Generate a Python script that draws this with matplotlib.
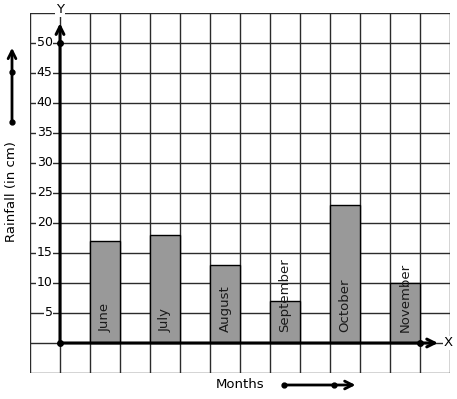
import matplotlib
matplotlib.use('Agg')
from matplotlib import pyplot as plt

# data
months = ['June', 'July', 'August', 'September', 'October', 'November']
rainfall = [17, 18, 13, 7, 23, 10]
bar_pos = [1.5, 3.5, 5.5, 7.5, 9.5, 11.5]
y_ticks = [5, 10, 15, 20, 25, 30, 35, 40, 45, 50]

fig = plt.figure(figsize=(4.57, 3.99), dpi=100)
ax = fig.add_axes([30/457, 26/399, 420/457, 360/399])
ax.set_xlim(-1, 13)
ax.set_ylim(-5, 55)
ax.set_xticks([])
ax.set_yticks([])
for s in ax.spines.values():
    s.set_visible(False)

# grid paper
for gx in range(-1, 14):
    ax.axvline(gx, color='#2b2b2b', lw=1.0, zorder=1)
for gy in range(-5, 56, 5):
    ax.axhline(gy, color='#2b2b2b', lw=1.0, zorder=1)

# bars
ax.bar(bar_pos, rainfall, width=1, color='#999999', edgecolor='black', lw=1.0, zorder=2)
for x, m in zip(bar_pos, months):
    ax.text(x, 1.75, m, rotation=90, ha='center', va='bottom', fontsize=9.5, color='#1a1a1a', zorder=3)

# axes with arrows
ax.annotate('', xy=(0, 53.3), xytext=(0, 0),
            arrowprops=dict(arrowstyle='->', lw=2.2, color='black', shrinkA=0, shrinkB=0,
                            mutation_scale=14), zorder=4)
ax.annotate('', xy=(12.6, 0), xytext=(0, 0),
            arrowprops=dict(arrowstyle='->', lw=2.2, color='black', shrinkA=0, shrinkB=0,
                            mutation_scale=14), zorder=4)
ax.plot([0, 0, 12], [0, 50, 0], 'o', color='black', ms=4, zorder=5)

wb = dict(facecolor='white', edgecolor='none', pad=0.6)
ax.text(0, 55.6, 'Y', ha='center', va='center', fontsize=9.5, bbox=wb, clip_on=False, zorder=6)
ax.text(12.95, 0, 'X', ha='center', va='center', fontsize=9.5, bbox=wb, clip_on=False, zorder=6)
for t in y_ticks:
    ax.text(-0.25, t, str(t), ha='right', va='center', fontsize=9, bbox=wb, zorder=6)

# axis titles with arrows
ax.text(-1.6, 25.25, 'Rainfall (in cm)', rotation=90, ha='center', va='center',
        fontsize=9.5, clip_on=False)
ax.annotate('', xy=(-1.6, 49.2), xytext=(-1.6, 36.9), annotation_clip=False,
            arrowprops=dict(arrowstyle='->', lw=2.0, color='black', shrinkA=0, shrinkB=0,
                            mutation_scale=14))
ax.plot([-1.6, -1.6], [36.9, 45.25], 'o', color='black', ms=3.5, clip_on=False)

ax.text(6.0, -7.0, 'Months', ha='center', va='center', fontsize=9.5, clip_on=False)
ax.annotate('', xy=(9.85, -7.0), xytext=(7.47, -7.0), annotation_clip=False,
            arrowprops=dict(arrowstyle='->', lw=2.0, color='black', shrinkA=0, shrinkB=0,
                            mutation_scale=14))
ax.plot([7.47, 9.13], [-7.0, -7.0], 'o', color='black', ms=3.5, clip_on=False)

fig.savefig('out.png', dpi=100, facecolor='white')
